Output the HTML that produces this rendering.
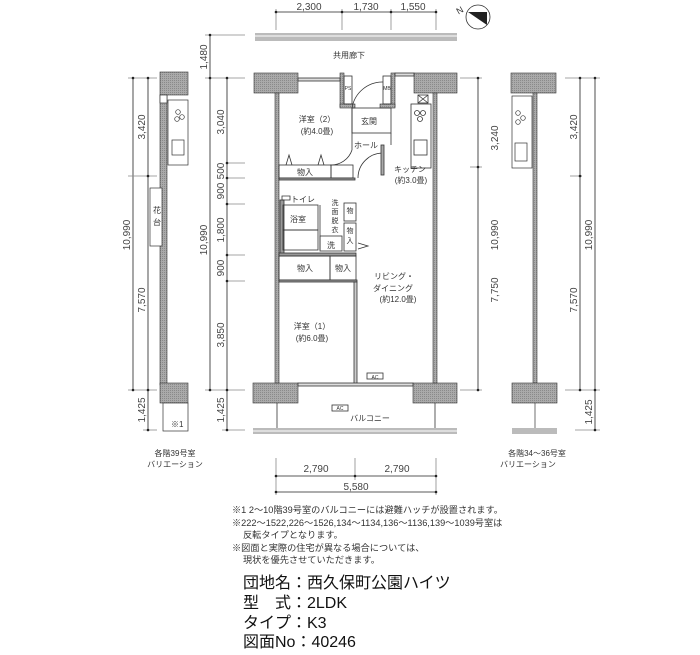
<!DOCTYPE html>
<html><head><meta charset="utf-8"><style>
body{margin:0;background:#fff;width:700px;height:650px;overflow:hidden}
svg{font-family:"Liberation Sans","Noto Sans CJK JP",sans-serif}
.t{font-size:8px;fill:#333}
.d{font-size:10px;fill:#444}
</style></head><body>
<svg width="700" height="650" viewBox="0 0 700 650">
<defs>
<pattern id="g" width="2" height="2" patternUnits="userSpaceOnUse"><rect width="2" height="2" fill="#aaa"/><rect width="1" height="1" fill="#8a8a8a"/></pattern>
</defs>
<g stroke="#222" stroke-width="0.8" fill="none">
<line x1="276" y1="12" x2="436" y2="12"/>
<line x1="276" y1="9" x2="276" y2="30" stroke="#888"/><line x1="342" y1="9" x2="342" y2="30" stroke="#888"/><line x1="391" y1="9" x2="391" y2="30" stroke="#888"/><line x1="436" y1="9" x2="436" y2="30" stroke="#888"/>
<line x1="210" y1="35" x2="210" y2="390"/>
<line x1="227" y1="78" x2="227" y2="430"/>
<line x1="205" y1="35" x2="245" y2="35" stroke="#888"/>
<line x1="205" y1="78" x2="245" y2="78" stroke="#888"/>
<line x1="205" y1="390" x2="245" y2="390" stroke="#888"/>
<line x1="222" y1="430" x2="245" y2="430" stroke="#888"/>
<line x1="227" y1="163" x2="245" y2="163" stroke="#888"/><line x1="227" y1="178" x2="245" y2="178" stroke="#888"/><line x1="227" y1="204" x2="245" y2="204" stroke="#888"/><line x1="227" y1="255" x2="245" y2="255" stroke="#888"/><line x1="227" y1="281" x2="245" y2="281" stroke="#888"/>
<line x1="478" y1="78" x2="478" y2="390"/>
<line x1="460" y1="78" x2="482" y2="78" stroke="#888"/><line x1="470" y1="167" x2="482" y2="167" stroke="#888"/><line x1="460" y1="390" x2="482" y2="390" stroke="#888"/>
<line x1="276" y1="476" x2="436" y2="476"/>
<line x1="276" y1="458" x2="276" y2="495" stroke="#888"/><line x1="355" y1="458" x2="355" y2="480" stroke="#888"/><line x1="436" y1="458" x2="436" y2="495" stroke="#888"/>
<line x1="276" y1="492" x2="436" y2="492"/>
<line x1="133" y1="78" x2="133" y2="390"/>
<line x1="148" y1="78" x2="148" y2="430"/>
<line x1="128" y1="78" x2="157" y2="78" stroke="#888"/><line x1="128" y1="176" x2="157" y2="176" stroke="#888"/><line x1="128" y1="390" x2="157" y2="390" stroke="#888"/><line x1="143" y1="430" x2="157" y2="430" stroke="#888"/>
<line x1="580" y1="78" x2="580" y2="390"/><line x1="595" y1="78" x2="595" y2="430"/>
<line x1="565" y1="78" x2="600" y2="78" stroke="#888"/><line x1="570" y1="176" x2="582" y2="176" stroke="#888"/><line x1="565" y1="390" x2="600" y2="390" stroke="#888"/><line x1="575" y1="430" x2="600" y2="430" stroke="#888"/>
</g>
<g fill="#222">
<circle cx="276" cy="12" r="1.3"/><circle cx="342" cy="12" r="1.3"/><circle cx="391" cy="12" r="1.3"/><circle cx="436" cy="12" r="1.3"/>
<circle cx="210" cy="35" r="1.3"/><circle cx="210" cy="78" r="1.3"/><circle cx="210" cy="390" r="1.3"/><circle cx="227" cy="78" r="1.3"/><circle cx="227" cy="163" r="1.3"/><circle cx="227" cy="178" r="1.3"/><circle cx="227" cy="204" r="1.3"/><circle cx="227" cy="255" r="1.3"/><circle cx="227" cy="281" r="1.3"/><circle cx="227" cy="390" r="1.3"/><circle cx="227" cy="430" r="1.3"/>
<circle cx="478" cy="78" r="1.3"/><circle cx="478" cy="167" r="1.3"/><circle cx="478" cy="390" r="1.3"/>
<circle cx="276" cy="476" r="1.3"/><circle cx="355" cy="476" r="1.3"/><circle cx="436" cy="476" r="1.3"/><circle cx="276" cy="492" r="1.3"/><circle cx="436" cy="492" r="1.3"/>
<circle cx="133" cy="78" r="1.3"/><circle cx="133" cy="390" r="1.3"/><circle cx="148" cy="78" r="1.3"/><circle cx="148" cy="176" r="1.3"/><circle cx="148" cy="390" r="1.3"/><circle cx="148" cy="430" r="1.3"/>
<circle cx="580" cy="78" r="1.3"/><circle cx="580" cy="176" r="1.3"/><circle cx="580" cy="390" r="1.3"/><circle cx="595" cy="78" r="1.3"/><circle cx="595" cy="390" r="1.3"/><circle cx="595" cy="430" r="1.3"/>
</g>
<g class="d" text-anchor="middle">
<text x="309" y="10">2,300</text><text x="366" y="10">1,730</text><text x="413" y="10">1,550</text>
<text x="316" y="472">2,790</text><text x="397" y="472">2,790</text><text x="356" y="490">5,580</text>
<text transform="translate(207,57) rotate(-90)">1,480</text>
<text transform="translate(207,240) rotate(-90)">10,990</text>
<text transform="translate(224,122) rotate(-90)">3,040</text>
<text transform="translate(224,171) rotate(-90)">500</text>
<text transform="translate(224,191) rotate(-90)">900</text>
<text transform="translate(224,230) rotate(-90)">1,800</text>
<text transform="translate(224,268) rotate(-90)">900</text>
<text transform="translate(224,335) rotate(-90)">3,850</text>
<text transform="translate(224,410) rotate(-90)">1,425</text>
<text transform="translate(498,138) rotate(-90)">3,240</text>
<text transform="translate(498,235) rotate(-90)">10,990</text>
<text transform="translate(498,290) rotate(-90)">7,750</text>
<text transform="translate(130,235) rotate(-90)">10,990</text>
<text transform="translate(145,127) rotate(-90)">3,420</text>
<text transform="translate(145,300) rotate(-90)">7,570</text>
<text transform="translate(145,410) rotate(-90)">1,425</text>
<text transform="translate(577,127) rotate(-90)">3,420</text>
<text transform="translate(577,300) rotate(-90)">7,570</text>
<text transform="translate(592,235) rotate(-90)">10,990</text>
<text transform="translate(592,412) rotate(-90)">1,425</text>
</g>
<circle cx="478" cy="17" r="12" fill="#fff" stroke="#333" stroke-width="0.8"/>
<polygon points="468,12 487,12 487,25" fill="#222"/>
<text x="457" y="15" font-size="9" fill="#333" transform="rotate(-30 457 12)">N</text>
<rect x="255" y="33" width="202" height="8" fill="#bbb"/>
<line x1="255" y1="36" x2="457" y2="36" stroke="#fff" stroke-width="1"/>
<text x="349" y="58" class="t" text-anchor="middle">共用廊下</text>
<g fill="url(#g)" stroke="#333" stroke-width="0.6">
<rect x="254" y="73" width="44" height="20"/><rect x="414" y="73" width="43" height="20"/>
<rect x="253" y="383" width="45" height="20"/><rect x="413" y="383" width="44" height="20"/>
<rect x="275" y="93" width="4" height="290"/><rect x="433" y="93" width="4" height="290"/>
<rect x="340" y="73" width="4" height="34"/><rect x="391" y="73" width="4" height="34"/>
<rect x="340" y="104" width="15" height="4"/><rect x="380" y="104" width="15" height="4"/>
</g>
<g fill="none" stroke="#333" stroke-width="0.8">
<rect x="298" y="78" width="42" height="3" fill="#ddd"/>
<rect x="395" y="73" width="19" height="3" fill="#ddd"/>
<rect x="344" y="76" width="8" height="28"/><rect x="383" y="76" width="8" height="28"/>
<rect x="352" y="108" width="39" height="25"/>
<line x1="352" y1="108" x2="352" y2="150"/><line x1="391" y1="133" x2="391" y2="145"/>
<path d="M352 108 A31 31 0 0 1 383 82"/>
<path d="M352 150 A22 22 0 0 1 330 165"/>
<path d="M383 153 A25 25 0 0 0 358 178"/>
<rect x="381" y="145" width="3" height="30" fill="#aaa"/>
<rect x="411" y="104" width="20" height="64"/>
<rect x="418" y="95" width="10" height="8"/><path d="M418 95 L428 103 M428 95 L418 103"/>
<circle cx="417" cy="113" r="2.5"/><circle cx="423" cy="113" r="2.5"/><circle cx="420" cy="119" r="2.5"/>
<rect x="414" y="140" width="13" height="15"/>
<rect x="279" y="165" width="52" height="13"/>
<rect x="331" y="165" width="22" height="13"/>
<rect x="279" y="178" width="76" height="2" fill="#999"/>
<rect x="280" y="200" width="4" height="55" fill="#999"/>
<rect x="283" y="205" width="35" height="25"/>
<rect x="283" y="230" width="35" height="20"/>
<line x1="320" y1="205" x2="320" y2="250"/>
<rect x="320" y="236" width="22" height="15"/>
<rect x="344" y="203" width="12" height="18"/><rect x="344" y="223" width="12" height="28"/>
<path d="M282 196 L290 196 L290 200 L282 200 Z"/>
<rect x="279" y="253" width="77" height="3" fill="#999"/>
<rect x="279" y="256" width="51" height="24"/><rect x="330" y="256" width="26" height="24"/>
<rect x="279" y="280" width="78" height="2" fill="#999"/>
<rect x="354" y="282" width="3" height="103" fill="#ccc"/>
<path d="M358 243 L368 246 L358 249"/>
<path d="M286 165 L289 155 L292 165 M318 165 L321 155 L324 165"/>
<rect x="298" y="383" width="115" height="3" fill="#ddd"/>
<rect x="367" y="373" width="16" height="6"/>
<rect x="332" y="405" width="16" height="6"/>
<line x1="277" y1="403" x2="277" y2="429"/><line x1="435" y1="403" x2="435" y2="429"/>
</g>
<rect x="253" y="428" width="204" height="6" fill="#bbb"/>
<line x1="253" y1="431" x2="457" y2="431" stroke="#fff"/>
<g class="t" text-anchor="middle">
<text x="369" y="124">玄関</text><text x="366" y="148">ホール</text>
<text x="317" y="122">洋室（2）</text><text x="317" y="134">(約4.0畳)</text>
<text x="410" y="172">キッチン</text><text x="411" y="183">(約3.0畳)</text>
<text x="305" y="175">物入</text><text x="303" y="202">トイレ</text><text x="298" y="222">浴室</text>
<text x="331" y="248">洗</text>
<text x="305" y="271">物入</text><text x="343" y="271">物入</text>
<text x="312" y="329">洋室（1）</text><text x="312" y="341">(約6.0畳)</text>
<text x="394" y="279">リビング・</text><text x="393" y="291">ダイニング</text><text x="398" y="302">(約12.0畳)</text>
<text x="370" y="421">バルコニー</text>
<text x="375" y="379" font-size="5">AC</text><text x="340" y="410" font-size="5">AC</text>
<text x="348" y="90" font-size="5">PS</text><text x="387" y="90" font-size="5">MB</text>
<text x="335" y="205" font-size="7">洗</text><text x="335" y="214" font-size="7">面</text><text x="335" y="223" font-size="7">脱</text><text x="335" y="232" font-size="7">衣</text>
<text x="350" y="213" font-size="7">物</text><text x="350" y="233" font-size="7">物</text><text x="350" y="243" font-size="7">入</text>
</g>
<g fill="url(#g)" stroke="#333" stroke-width="0.6">
<rect x="160" y="72" width="28" height="23"/><rect x="160" y="95" width="7" height="290"/><rect x="160" y="383" width="28" height="20"/>
</g>
<g fill="#fff" stroke="#333" stroke-width="0.7">
<rect x="168" y="100" width="20" height="65"/>
<circle cx="178" cy="112" r="2.3"/><circle cx="182" cy="117" r="2.3"/><circle cx="177" cy="119" r="2.3"/>
<rect x="172" y="140" width="12" height="15"/>
<rect x="150" y="188" width="12" height="58"/>
<rect x="163" y="403" width="25" height="28"/>
<rect x="160" y="95" width="7" height="8"/>
</g>
<text x="153" y="213" class="t" font-size="7">花</text><text x="153" y="225" class="t" font-size="7">台</text>
<text x="171" y="427" class="t">※1</text>
<text x="175" y="456" class="t" text-anchor="middle">各階39号室</text>
<text x="175" y="467" class="t" text-anchor="middle">バリエーション</text>
<g fill="url(#g)" stroke="#333" stroke-width="0.6">
<rect x="511" y="73" width="45" height="20"/><rect x="533" y="93" width="4" height="290"/><rect x="512" y="383" width="45" height="20"/>
</g>
<g fill="#fff" stroke="#333" stroke-width="0.7">
<rect x="512" y="96" width="20" height="72"/>
<circle cx="518" cy="113" r="2.3"/><circle cx="523" cy="118" r="2.3"/><circle cx="518" cy="122" r="2.3"/>
<rect x="515" y="143" width="12" height="18"/>
<line x1="535" y1="403" x2="535" y2="430"/>
</g>
<rect x="512" y="428" width="45" height="6" fill="#bbb"/>
<text x="537" y="456" class="t" text-anchor="middle">各階34～36号室</text>
<text x="500" y="467" class="t">バリエーション</text>
<g font-size="9.2" fill="#333">
<text x="232" y="513">※1 2～10階39号室のバルコニーには避難ハッチが設置されます。</text>
<text x="232" y="526">※222～1522,226～1526,134～1134,136～1136,139～1039号室は</text>
<text x="243" y="538">反転タイプとなります。</text>
<text x="232" y="551">※図面と実際の住宅が異なる場合については、</text>
<text x="243" y="563">現状を優先させていただきます。</text>
</g>
<g font-size="16" fill="#111">
<text x="243" y="588">団地名：西久保町公園ハイツ</text>
<text x="243" y="608">型　式：2LDK</text>
<text x="243" y="628">タイプ：K3</text>
<text x="243" y="647">図面No：40246</text>
</g>
</svg>
</body></html>
